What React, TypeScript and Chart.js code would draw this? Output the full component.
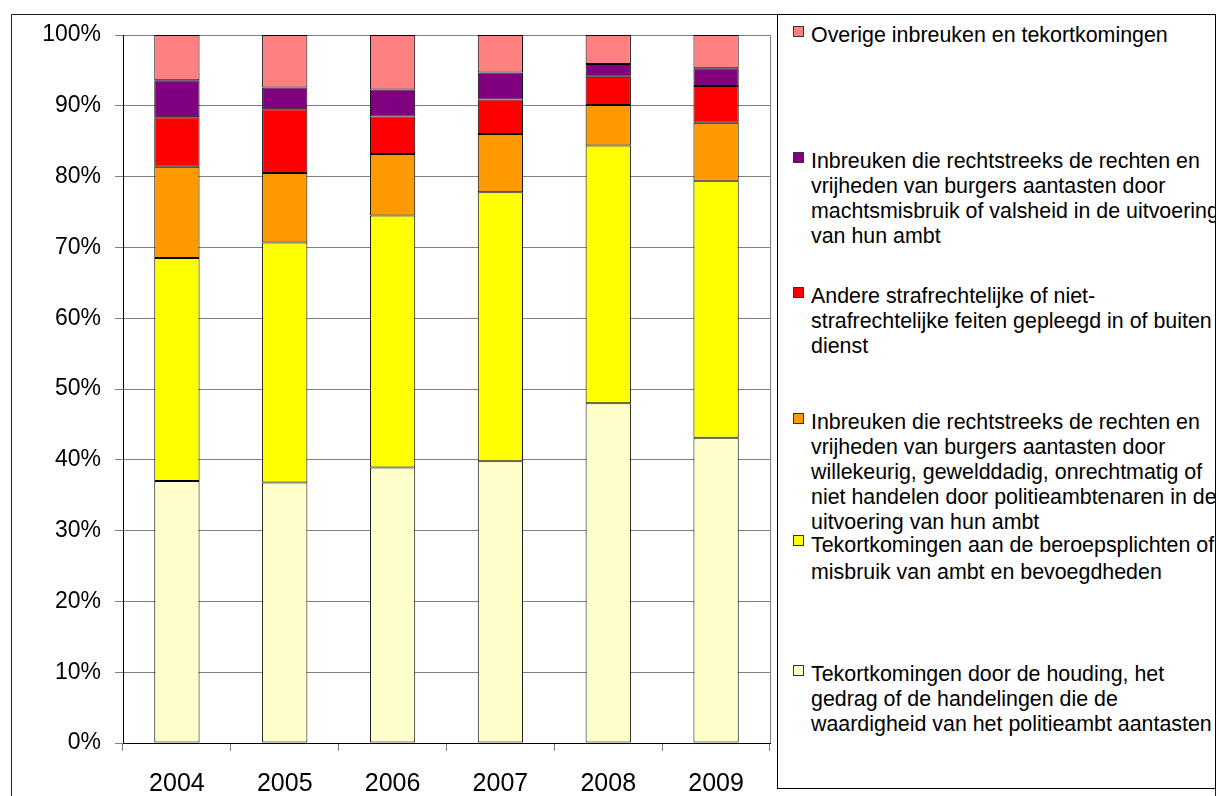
import React, { useEffect, useRef } from "react";
import { Chart, registerables } from "chart.js";

Chart.register(...registerables);

// ---- data (percent shares per year, bottom to top of each stacked bar) ----
const years = ["2004", "2005", "2006", "2007", "2008", "2009"];
const yTicks = [0, 10, 20, 30, 40, 50, 60, 70, 80, 90, 100];

const houdingGedrag = [37.0, 36.8, 38.9, 39.8, 48.0, 43.1];
const beroepsplichten = [31.5, 33.9, 35.6, 38.0, 36.4, 36.3];
const willekeurigGeweld = [12.9, 9.8, 8.7, 8.2, 5.7, 8.2];
const strafrechtelijk = [7.0, 9.0, 5.3, 4.9, 4.0, 5.2];
const machtsmisbruik = [5.2, 3.1, 3.8, 3.8, 1.8, 2.5];
const overige = [6.4, 7.4, 7.7, 5.3, 4.1, 4.7];

const seriesLabels = [
  "Tekortkomingen door de houding, het gedrag of de handelingen die de waardigheid van het politieambt aantasten",
  "Tekortkomingen aan de beroepsplichten of misbruik van ambt en bevoegdheden",
  "Inbreuken die rechtstreeks de rechten en vrijheden van burgers aantasten door willekeurig, gewelddadig, onrechtmatig of niet handelen door politieambtenaren in de uitvoering van hun ambt",
  "Andere strafrechtelijke of niet-strafrechtelijke feiten gepleegd in of buiten dienst",
  "Inbreuken die rechtstreeks de rechten en vrijheden van burgers aantasten door machtsmisbruik of valsheid in de uitvoering van hun ambt",
  "Overige inbreuken en tekortkomingen",
];
const seriesColors = ["#FFFFCC", "#FFFF00", "#FF9900", "#FF0000", "#800080", "#FF8080"];
const seriesValues = [houdingGedrag, beroepsplichten, willekeurigGeweld, strafrechtelijk, machtsmisbruik, overige];

// legend text as wrapped in the original (top to bottom)
const legendLines = [
  ["Overige inbreuken en tekortkomingen"],
  [
    "Inbreuken die rechtstreeks de rechten en",
    "vrijheden van burgers aantasten door",
    "machtsmisbruik of valsheid in de uitvoering",
    "van hun ambt",
  ],
  [
    "Andere strafrechtelijke of niet-",
    "strafrechtelijke feiten gepleegd in of buiten",
    "dienst",
  ],
  [
    "Inbreuken die rechtstreeks de rechten en",
    "vrijheden van burgers aantasten door",
    "willekeurig, gewelddadig, onrechtmatig of",
    "niet handelen door politieambtenaren in de",
    "uitvoering van hun ambt",
  ],
  ["Tekortkomingen aan de beroepsplichten of", "misbruik van ambt en bevoegdheden"],
  [
    "Tekortkomingen door de houding, het",
    "gedrag of de handelingen die de",
    "waardigheid van het politieambt aantasten",
  ],
];
const legendColors = ["#FF8080", "#800080", "#FF0000", "#FF9900", "#FFFF00", "#FFFFCC"];
const legendTextTops = [7.5, 133.5, 268.5, 394.5, 517, 646.5];
const legendMarkerTops = [11, 136.7, 272, 398, 520, 650];
const legendLineHeights = [25.2, 25.2, 25.2, 25.2, 27, 25.2];

const FONT = "'Liberation Sans', Arial, sans-serif";

const plotBorder = {
  id: "plotBorder",
  beforeDatasetsDraw(chart: any) {
    const { ctx, chartArea } = chart;
    const x = Math.round(chartArea.right - 0.5) + 0.5;
    ctx.save();
    ctx.strokeStyle = "#808080";
    ctx.lineWidth = 1;
    ctx.beginPath();
    ctx.moveTo(x, chartArea.top);
    ctx.lineTo(x, chartArea.bottom);
    ctx.stroke();
    ctx.restore();
  },
};

export default function App() {
  const canvasRef = useRef<HTMLCanvasElement | null>(null);

  useEffect(() => {
    if (!canvasRef.current) return;
    const chart = new Chart(canvasRef.current, {
      type: "bar",
      data: {
        labels: years,
        datasets: seriesValues.map((vals, i) => ({
          label: seriesLabels[i],
          data: vals,
          backgroundColor: seriesColors[i],
          borderColor: "#000000",
          borderWidth: 1,
          borderSkipped: false,
          barPercentage: 0.42,
          categoryPercentage: 1,
        })),
      },
      options: {
        responsive: false,
        animation: false,
        devicePixelRatio: 1,
        layout: { padding: { left: 0, top: 35, right: 7, bottom: 0 } },
        plugins: {
          legend: { display: false },
          tooltip: { enabled: false },
          title: { display: false },
        },
        scales: {
          x: {
            stacked: true,
            offset: true,
            grid: {
              offset: true,
              drawOnChartArea: false,
              drawTicks: true,
              tickLength: 8,
              color: "#808080",
            },
            border: { display: true, color: "#000000", width: 1 },
            ticks: {
              color: "#000000",
              font: { family: FONT, size: 25 },
              padding: 18,
              maxRotation: 0,
            },
            afterFit: (axis: any) => {
              axis.height = 53;
            },
          },
          y: {
            stacked: true,
            min: 0,
            max: 100,
            afterBuildTicks: (axis: any) => {
              axis.ticks = yTicks.map((v) => ({ value: v }));
            },
            grid: {
              color: "#808080",
              lineWidth: 1,
              drawTicks: true,
              tickLength: 8,
            },
            border: { display: true, color: "#000000", width: 1 },
            ticks: {
              color: "#000000",
              font: { family: FONT, size: 23 },
              padding: 14,
              callback: (v: any) => `${v}%`,
            },
            afterFit: (axis: any) => {
              axis.width = 123;
            },
          },
        },
      },
      plugins: [plotBorder],
    });
    return () => chart.destroy();
  }, []);

  return (
    <div
      style={{
        position: "absolute",
        left: 0,
        top: 0,
        width: 1219,
        height: 796,
        overflow: "hidden",
        background: "#ffffff",
        fontFamily: FONT,
      }}
    >
      <div
        style={{
          position: "absolute",
          left: 11,
          top: 14,
          width: 1205,
          height: 820,
          boxSizing: "border-box",
          border: "1px solid #222222",
        }}
      />
      <canvas
        ref={canvasRef}
        width={777}
        height={796}
        style={{ position: "absolute", left: 0, top: 0, width: 777, height: 796 }}
      />
      <div
        style={{
          position: "absolute",
          left: 777,
          top: 14,
          width: 439,
          height: 775,
          boxSizing: "border-box",
          border: "1px solid #000000",
          overflow: "hidden",
          background: "#ffffff",
        }}
      >
        {legendLines.map((lines, i) => (
          <React.Fragment key={i}>
            <div
              style={{
                position: "absolute",
                left: 15,
                top: legendMarkerTops[i],
                width: 11,
                height: 11,
                boxSizing: "border-box",
                border: "1px solid #333333",
                background: legendColors[i],
              }}
            />
            <div
              style={{
                position: "absolute",
                left: 33,
                top: legendTextTops[i],
                fontSize: 21.4,
                lineHeight: `${legendLineHeights[i]}px`,
                whiteSpace: "nowrap",
                color: "#000000",
              }}
            >
              {lines.map((ln, j) => (
                <div key={j}>{ln}</div>
              ))}
            </div>
          </React.Fragment>
        ))}
      </div>
    </div>
  );
}
